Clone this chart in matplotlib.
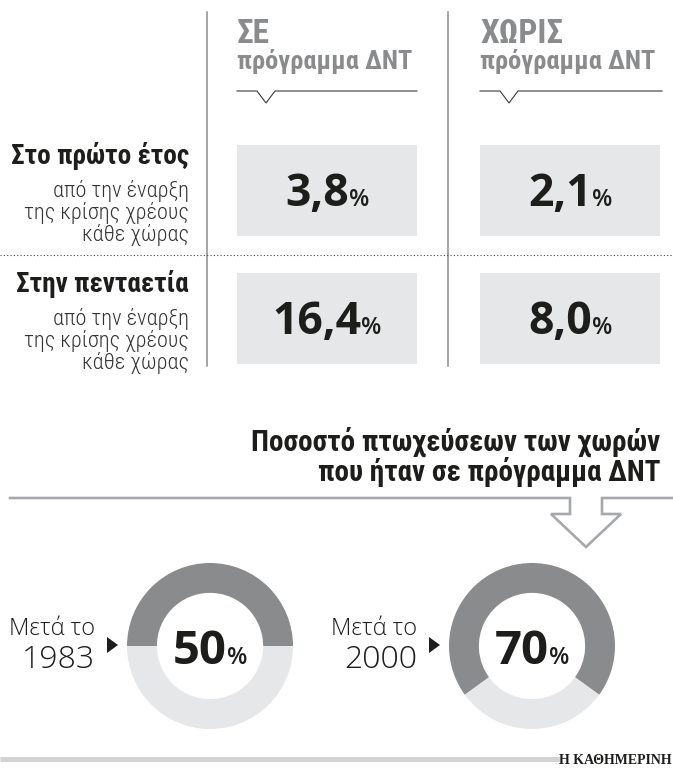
import matplotlib
matplotlib.use('Agg')
import matplotlib.pyplot as plt
from matplotlib import font_manager
from matplotlib.patches import Rectangle, Polygon

# Table data
columnas = ['ΣΕ', 'ΧΩΡΙΣ']
subtitulo_col = 'πρόγραμμα ΔΝΤ'
filas = ['Στο πρώτο έτος', 'Στην πενταετία']
nota_fila = ['από την έναρξη', 'της κρίσης χρέους', 'κάθε χώρας']
crecimiento = [[3.8, 2.1],    # first year: with / without IMF programme
               [16.4, 8.0]]   # five years

# Donut data
titulo = ['Ποσοστό πτωχεύσεων των χωρών', 'που ήταν σε πρόγραμμα ΔΝΤ']
prefijo_periodo = 'Μετά το'
periodos = ['1983', '2000']
pct_dnt = [50, 70]
fuente = 'Η ΚΑΘΗΜΕΡΙΝΗ'

GRIS_OSC = '#8a8b8d'
GRIS_CLARO = '#e6e7e8'
GRIS_LINEA = '#8c8c8c'
NEGRO = '#1d1d1b'

# Fonts: pick a narrow family if one is installed
fuentes = font_manager.fontManager.ttflist
nombres = {f.name for f in fuentes}


def elegir(*cands):
    for c in cands:
        if c in nombres:
            return c
    return 'DejaVu Sans'


def elegir_light(*cands):
    for c in cands:
        for f in fuentes:
            w = f.weight if isinstance(f.weight, int) else font_manager.weight_dict.get(f.weight, 400)
            if f.name == c and w <= 300:
                return c
    return elegir(*cands)


COND = elegir('Roboto Condensed', 'Liberation Sans Narrow', 'Noto Sans Condensed', 'DejaVu Sans')
HUM = elegir('Open Sans', 'Noto Sans', 'DejaVu Sans')
LIGHT = elegir_light('Open Sans', 'Noto Sans', 'Lato', 'Roboto', 'DejaVu Sans')
SERIF = elegir('Liberation Serif', 'DejaVu Serif')

W, H = 673, 771
fig = plt.figure(figsize=(W / 100, H / 100), dpi=100)
ax = fig.add_axes([0, 0, 1, 1])
ax.set_xlim(0, W)
ax.set_ylim(H, 0)
ax.axis('off')
rend = fig.canvas.get_renderer()


def numero_pct(x, y, num, size_num, size_pct):
    ''' Draw a bold number followed by a small %, centered as a group on x '''
    t1 = ax.text(x, y, num, ha='right', va='baseline', fontsize=size_num,
                 fontweight='bold', family=HUM, color=NEGRO)
    t2 = ax.text(x, y, '%', ha='left', va='baseline', fontsize=size_pct,
                 fontweight='semibold', family=HUM, color=NEGRO)
    w1 = t1.get_window_extent(rend).width
    w2 = t2.get_window_extent(rend).width
    izq = x - (w1 + w2) / 2
    t1.set_x(izq + w1)
    t2.set_x(izq + w1)


# Column separators
for xv in [207, 448]:
    ax.plot([xv, xv], [12, 366], color=GRIS_LINEA, lw=1.1)

# Column headers
col_x = [237, 480]
col_fin = [417, 662]
for i, nombre in enumerate(columnas):
    x0 = col_x[i]
    ax.text(x0, 43, nombre, fontsize=24, fontweight='bold', family=COND,
            fontstretch='condensed', color=GRIS_OSC, va='baseline')
    ax.text(x0, 69, subtitulo_col, fontsize=19, fontweight='bold', family=COND,
            fontstretch='condensed', color=GRIS_OSC, va='baseline')
    ax.plot([x0, x0 + 20, x0 + 29, x0 + 38, col_fin[i]], [91, 91, 103, 91, 91],
            color='#3a3a3a', lw=0.8, solid_joinstyle='miter')

# Rows
fila_y = [145, 273]
caja_h = 91
for j, fila in enumerate(filas):
    y0 = fila_y[j]
    ax.text(189, y0 + 19, fila, ha='right', va='baseline', fontsize=19.5,
            fontweight='bold', family=COND, fontstretch='condensed', color=NEGRO)
    for k, linea in enumerate(nota_fila):
        ax.text(189, y0 + 52 + 22 * k, linea, ha='right', va='baseline',
                fontsize=16, fontweight='light', family=COND,
                fontstretch='condensed', color='#333333')
    for i in range(len(columnas)):
        ax.add_patch(Rectangle((col_x[i], y0), 180, caja_h, facecolor=GRIS_CLARO,
                               edgecolor='none'))
        valor = '{:.1f}'.format(crecimiento[j][i]).replace('.', ',')
        numero_pct(col_x[i] + 90, y0 + caja_h / 2 + 15, valor, 32, 17)

ax.plot([0, W], [255, 255], color='#444444', lw=0.8, ls=(0, (1, 2)))

# Title and arrow line
ax.text(660, 451, titulo[0], ha='right', va='baseline', fontsize=21,
        fontweight='bold', family=COND, fontstretch='condensed', color=NEGRO)
ax.text(660, 481, titulo[1], ha='right', va='baseline', fontsize=21,
        fontweight='bold', family=COND, fontstretch='condensed', color=NEGRO)
ax.plot([10, 570, 570, 551, 586, 621, 602, 602, W],
        [498, 498, 514, 514, 547, 514, 514, 498, 498],
        color='#a6a8ab', lw=1.9, solid_joinstyle='miter')

# Donuts
dona_cx = [210, 532]
dona_cy = 646
radio = 83
for i, p in enumerate(pct_dnt):
    cx = dona_cx[i]
    axd = fig.add_axes([(cx - radio) / W, (H - dona_cy - radio) / H,
                        2 * radio / W, 2 * radio / H])
    axd.pie([p, 100 - p], colors=[GRIS_OSC, GRIS_CLARO],
            startangle=90 + 3.6 * p / 2, counterclock=False, radius=1,
            wedgeprops=dict(width=0.36, linewidth=0))
    axd.set_xlim(-1, 1)
    axd.set_ylim(-1, 1)
    axd.axis('off')

    numero_pct(cx, 664, str(p), 34, 17)

    ax.text(cx - 115, 635, prefijo_periodo, ha='right', va='baseline',
            fontsize=17, fontweight='light', family=LIGHT, color=NEGRO)
    ax.text(cx - 115, 668, periodos[i], ha='right', va='baseline',
            fontsize=23, fontweight='light', family=LIGHT, color=NEGRO)
    ax.add_patch(Polygon([(cx - 103, 637), (cx - 103, 653), (cx - 92, 645)],
                         closed=True, facecolor=NEGRO, edgecolor='none'))

# Footer
ax.plot([0, 560], [759, 759], color='#d1d3d4', lw=3.6, solid_capstyle='butt')
ax.text(672, 764, fuente, ha='right', va='baseline', fontsize=10,
        fontweight='bold', family=SERIF, fontstretch='condensed', color=NEGRO)

fig.savefig('out.png', dpi=100)
